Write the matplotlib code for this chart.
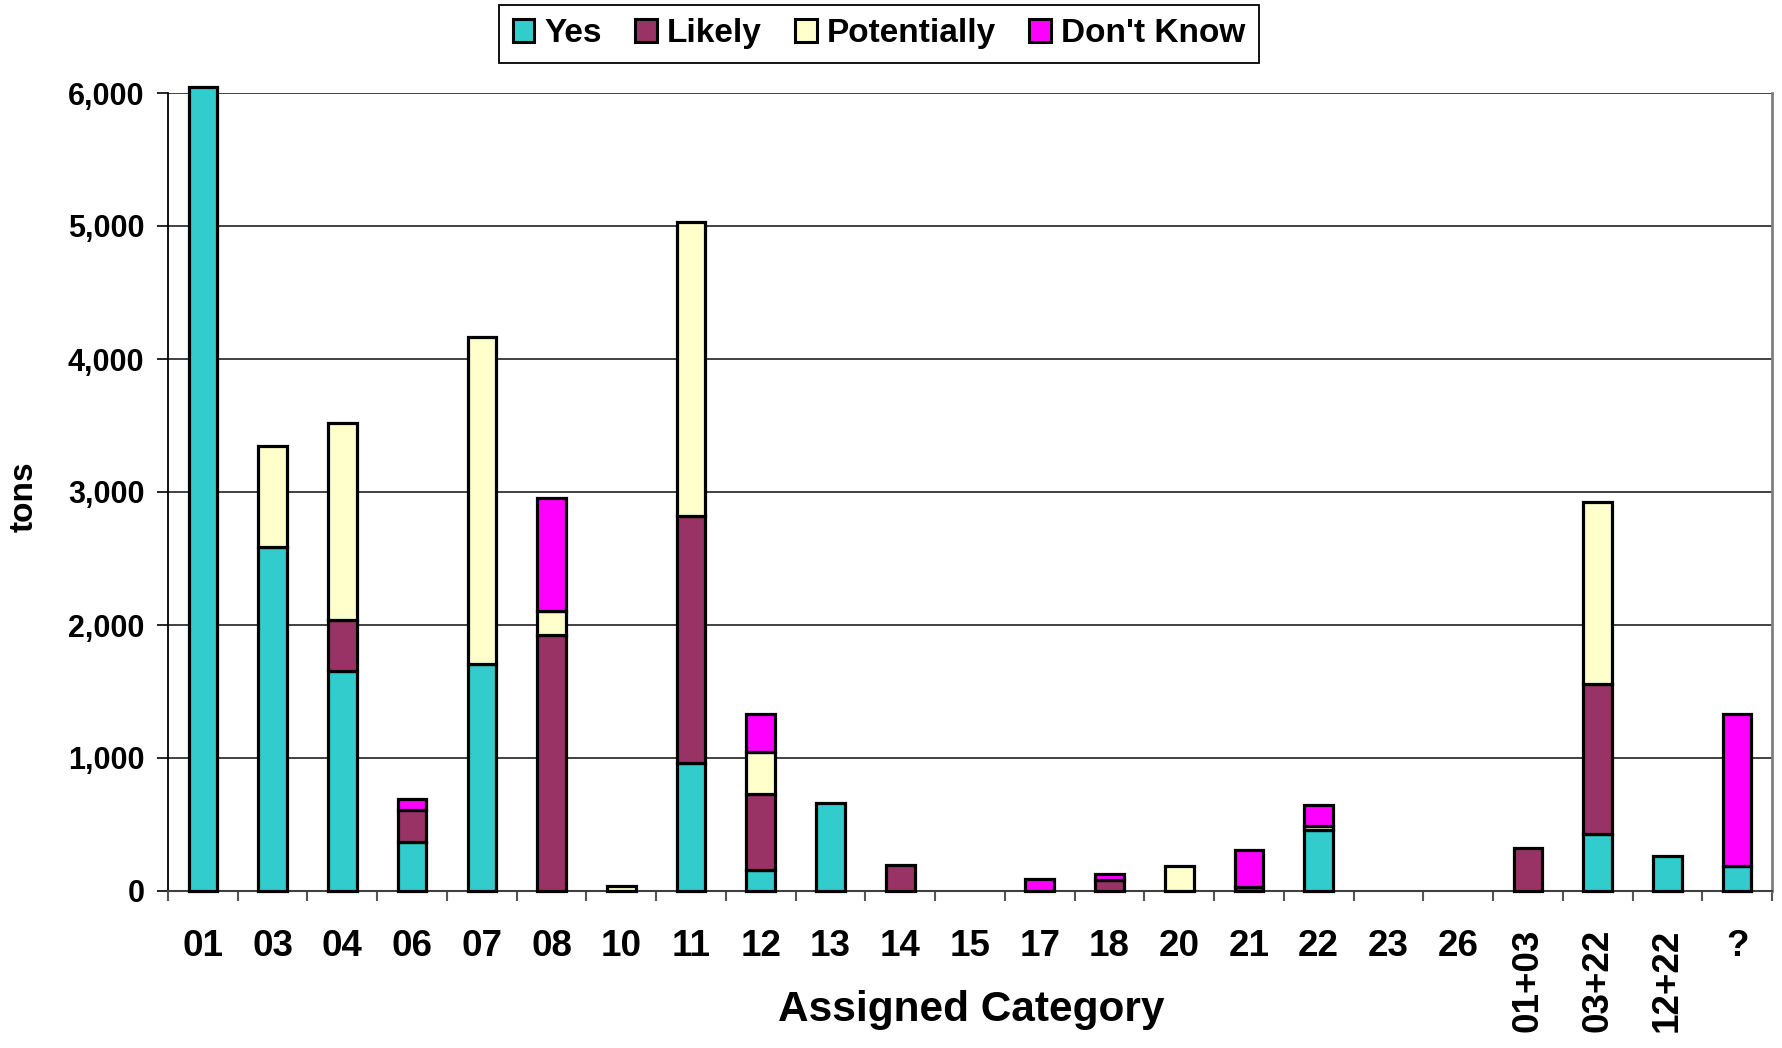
import numpy as np
import matplotlib
matplotlib.use("Agg")
import matplotlib.pyplot as plt
from matplotlib import font_manager
from matplotlib.patches import Patch
from matplotlib.ticker import FuncFormatter, FixedLocator

# --- data (tons per assigned category) ---
categories = ["01", "03", "04", "06", "07", "08", "10", "11", "12", "13", "14", "15",
              "17", "18", "20", "21", "22", "23", "26", "01+03", "03+22", "12+22", "?"]
yes =         [6047, 2585, 1654, 367, 1707, 0, 0, 965, 161, 665, 0, 0,
               0, 0, 0, 0, 458, 0, 0, 0, 427, 266, 188]
likely =      [0, 0, 381, 243, 0, 1923, 0, 1854, 571, 0, 193, 0,
               0, 83, 0, 30, 0, 0, 0, 322, 1129, 0, 0]
potentially = [0, 761, 1482, 0, 2455, 183, 37, 2209, 311, 0, 0, 0,
               0, 0, 186, 0, 34, 0, 0, 0, 1371, 0, 0]
dont_know =   [0, 0, 0, 83, 0, 851, 0, 0, 291, 0, 0, 0,
               90, 47, 0, 281, 156, 0, 0, 0, 0, 0, 1141]

series = [("Yes", yes, "#33CCCC"),
          ("Likely", likely, "#993366"),
          ("Potentially", potentially, "#FFFFCC"),
          ("Don't Know", dont_know, "#FF00FF")]
rotated = {"01+03", "03+22", "12+22"}

# --- fonts ---
installed = {f.name for f in font_manager.fontManager.ttflist}
base_font = "Liberation Sans" if "Liberation Sans" in installed else "DejaVu Sans"
if "Liberation Sans Narrow" in installed:
    narrow_font, narrow_size = "Liberation Sans Narrow", 29.5
else:
    narrow_font, narrow_size = base_font, 26.5
plt.rcParams["font.family"] = [base_font, "DejaVu Sans"]
plt.rcParams["font.weight"] = "bold"

W, H = 1782, 1048
fig = plt.figure(figsize=(W / 100, H / 100), dpi=100)
left, right, top, bottom = 168, 1772, 93, 891
ax = fig.add_axes([left / W, 1 - bottom / H, (right - left) / W, (bottom - top) / H])

x = np.arange(len(categories))
base = np.zeros(len(categories))
for name, vals, color in series:
    vals = np.array(vals, dtype=float)
    b = ax.bar(x, vals, width=0.41, bottom=base, color=color, edgecolor="black",
               linewidth=2.3, label=name, clip_on=False, zorder=3)
    for r, v in zip(b.patches, vals):
        if v == 0:
            r.set_visible(False)
    base += vals

ax.set_xlim(-0.5, len(categories) - 0.5)
ax.set_ylim(0, 6000)

# y axis
ax.set_yticks(np.arange(0, 6001, 1000))
ax.yaxis.set_major_formatter(FuncFormatter(lambda v, p: f"{int(v):,}"))
ax.tick_params(axis="y", direction="out", length=8, width=1.2, color="black",
               labelsize=22, pad=9)
for t in ax.get_yticklabels():
    t.set_fontweight("bold")
ax.yaxis.grid(True, color="#333333", linewidth=1.3)
ax.set_axisbelow(True)

# x axis: labels at centers, tick marks between categories
ax.set_xticks(x)
ax.set_xticklabels(categories, fontfamily=narrow_font, fontsize=narrow_size,
                   fontweight="bold")
ax.xaxis.set_minor_locator(FixedLocator(np.arange(-0.5, len(categories), 1.0)))
ax.tick_params(axis="x", which="major", length=0, pad=27)
ax.tick_params(axis="x", which="minor", direction="out", length=7, width=1.5,
               color="#555555")
for t, c in zip(ax.get_xticklabels(), categories):
    if c in rotated:
        t.set_rotation(90)
        t.set_va("top")
        t.set_ha("center")

# spines
ax.spines["top"].set_visible(False)
ax.spines["right"].set_color("#808080")
ax.spines["right"].set_linewidth(2)
ax.spines["left"].set_color("black")
ax.spines["left"].set_linewidth(1.3)
ax.spines["bottom"].set_color("#404040")
ax.spines["bottom"].set_linewidth(1.5)

# axis titles
fig.text(971 / W, 1 - 1010 / H, "Assigned Category", ha="center", va="center",
         fontsize=30.5, fontweight="bold")
fig.text(24 / W, 1 - 497 / H, "tons", ha="center", va="center", rotation=90,
         fontsize=24, fontweight="bold")

# legend
handles = [Patch(facecolor=c, edgecolor="black", linewidth=2.2) for _, _, c in series]
leg = fig.legend(handles=handles, labels=[s[0] for s in series], loc="upper center",
                 bbox_to_anchor=(879 / W, 1 - 5 / H), ncol=4, fontsize=24,
                 frameon=True, fancybox=False, shadow=False, framealpha=1,
                 edgecolor="black", handlelength=0.65, handleheight=0.65,
                 handletextpad=0.3, columnspacing=1.0, borderpad=0.4,
                 borderaxespad=0)
leg.get_frame().set_linewidth(1.3)
for t in leg.get_texts():
    t.set_fontweight("bold")

fig.savefig("out.png", dpi=100)
